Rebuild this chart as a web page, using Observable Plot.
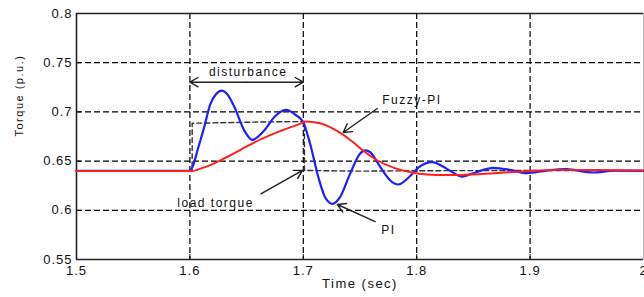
<!DOCTYPE html>
<html><head><meta charset="utf-8">
<script src="https://cdn.jsdelivr.net/npm/d3@7"></script>
<script src="https://cdn.jsdelivr.net/npm/@observablehq/plot@0.6"></script>
<style>html,body{margin:0;padding:0;background:#fff;overflow:hidden}</style>
</head><body><div id="chart"></div>
<script>
// ---- data ----
const xTicks = [1.5, 1.6, 1.7, 1.8, 1.9, 2];
const yTicks = [0.55, 0.6, 0.65, 0.7, 0.75, 0.8];
const xGrid = [1.6, 1.7, 1.8, 1.9];
const yGrid = [0.6, 0.65, 0.7, 0.75];

const piTime = [1.5, 1.6, 1.603, 1.6067, 1.6126, 1.618, 1.623, 1.628, 1.633, 1.639, 1.648, 1.655, 1.6655, 1.6743, 1.6846, 1.694, 1.7, 1.706, 1.7133, 1.7192, 1.7258, 1.7324, 1.7412, 1.75, 1.755, 1.759, 1.768, 1.7767, 1.7837, 1.7947, 1.802, 1.8137, 1.8267, 1.84, 1.8523, 1.8676, 1.8823, 1.897, 1.9146, 1.932, 1.955, 1.975, 2.0];
const piTorque = [0.64, 0.64, 0.646, 0.661, 0.6845, 0.708, 0.718, 0.7217, 0.718, 0.7055, 0.681, 0.6716, 0.681, 0.6946, 0.7021, 0.6963, 0.6895, 0.6676, 0.6336, 0.6133, 0.6066, 0.6133, 0.637, 0.6574, 0.6608, 0.659, 0.6438, 0.6303, 0.6262, 0.6354, 0.6438, 0.6489, 0.6421, 0.6343, 0.6387, 0.6432, 0.6411, 0.6377, 0.6404, 0.6418, 0.6384, 0.6402, 0.640];

const fuzzyTime = [1.5, 1.6, 1.605, 1.6106, 1.62, 1.6282, 1.6458, 1.6634, 1.681, 1.6987, 1.702, 1.7147, 1.7294, 1.744, 1.7507, 1.7654, 1.78, 1.7947, 1.8094, 1.825, 1.839, 1.868, 1.897, 1.926, 1.96, 2.0];
const fuzzyTorque = [0.64, 0.64, 0.6406, 0.6428, 0.647, 0.6515, 0.6622, 0.6727, 0.6811, 0.6887, 0.6903, 0.6885, 0.681, 0.6692, 0.6625, 0.6506, 0.6432, 0.6387, 0.6364, 0.6358, 0.636, 0.6377, 0.6397, 0.6411, 0.641, 0.6405];

const loadTime = [1.5, 1.602, 1.602, 1.62, 1.65, 1.68, 1.701, 1.701, 1.75, 1.8, 1.9, 2.0];
const loadTorque = [0.64, 0.64, 0.6885, 0.6888, 0.6895, 0.690, 0.6902, 0.6405, 0.6398, 0.6402, 0.6405, 0.6405];

// annotations (data units)
const labelText = ["disturbance", "Fuzzy-PI", "PI", "load torque"];
const labelTime = [1.6514, 1.7696, 1.7687, 1.5889];
const labelTorque = [0.7403, 0.7116, 0.5795, 0.607];

const arrowTime1 = [1.65, 1.65, 1.7652, 1.7634, 1.6626];
const arrowTorque1 = [0.7302, 0.7302, 0.7035, 0.5886, 0.6168];
const arrowTime2 = [1.6, 1.7, 1.7352, 1.730, 1.6993];
const arrowTorque2 = [0.7302, 0.7302, 0.6791, 0.6059, 0.6405];

const xTitle = "Time (sec)";
const yTitle = "Torque (p.u.)";

// ---- build ----
const rows = (t, v) => t.map((x, i) => ({t: x, v: v[i]}));
const labels = labelText.map((s, i) => ({s, t: labelTime[i], v: labelTorque[i]}));
const arrows = arrowTime1.map((t1, i) => ({t1, v1: arrowTorque1[i], t2: arrowTime2[i], v2: arrowTorque2[i]}));

const chart = Plot.plot({
  width: 644, height: 297,
  marginLeft: 76, marginRight: 1, marginTop: 13, marginBottom: 38,
  x: {domain: [1.5, 2]},
  y: {domain: [0.55, 0.8]},
  style: {fontFamily: "'Liberation Sans', Arial, sans-serif", background: "#fff", color: "#111", overflow: "visible"},
  marks: [
    Plot.gridX(xGrid, {stroke: "#000", strokeOpacity: 1, strokeDasharray: "6,3", strokeWidth: 1.2}),
    Plot.gridY(yGrid, {stroke: "#000", strokeOpacity: 1, strokeDasharray: "6,3", strokeWidth: 1.2}),
    Plot.axisX(xTicks, {tickSize: 0, tickPadding: 6, fontSize: 13, label: null, fill: "#111", tickFormat: d => String(d)}),
    Plot.axisX(xTicks, {tickSize: -5, tickFormat: () => "", label: null, stroke: "#111"}),
    Plot.axisY(yTicks, {tickSize: 0, tickPadding: 4, fontSize: 13, label: null, fill: "#111", tickFormat: d => String(d)}),
    Plot.axisY(yTicks, {tickSize: -5, tickFormat: () => "", label: null, stroke: "#111"}),
    Plot.ruleX([2], {stroke: "#bbb", strokeWidth: 1}),
    Plot.ruleX([1.5], {stroke: "#222", strokeWidth: 1.6}),
    Plot.ruleY([0.55, 0.8], {stroke: "#222", strokeWidth: 1.6}),
    Plot.line(rows(loadTime, loadTorque), {x: "t", y: "v", stroke: "#333", strokeWidth: 1.4, strokeDasharray: "5,3"}),
    Plot.line(rows(piTime, piTorque), {x: "t", y: "v", stroke: "#1f1fff", strokeWidth: 2.2, curve: "monotone-x"}),
    Plot.line(rows(fuzzyTime, fuzzyTorque), {x: "t", y: "v", stroke: "#ff1f1f", strokeWidth: 1.9, curve: "monotone-x"}),
    Plot.arrow(arrows, {x1: "t1", y1: "v1", x2: "t2", y2: "v2", stroke: "#222", strokeWidth: 1.4, headLength: 10}),
    Plot.text(labels.slice(0, 1), {x: "t", y: "v", text: "s", fontSize: 12, fill: "#111", textAnchor: "middle"}),
    Plot.text(labels.slice(1), {x: "t", y: "v", text: "s", fontSize: 12, fill: "#111", textAnchor: "start"}),
    Plot.text([xTitle], {frameAnchor: "bottom", dy: 28, fontSize: 13, fill: "#111"}),
    Plot.text([yTitle], {frameAnchor: "left", dx: -57, rotate: -90, fontSize: 11, fill: "#111"})
  ]
});
d3.select(chart).selectAll("text").attr("letter-spacing", "1px");
d3.select(chart).selectAll('g[aria-label="text"] text').attr("letter-spacing", "1.5px");
document.getElementById("chart").appendChild(chart);
</script>
</body></html>
